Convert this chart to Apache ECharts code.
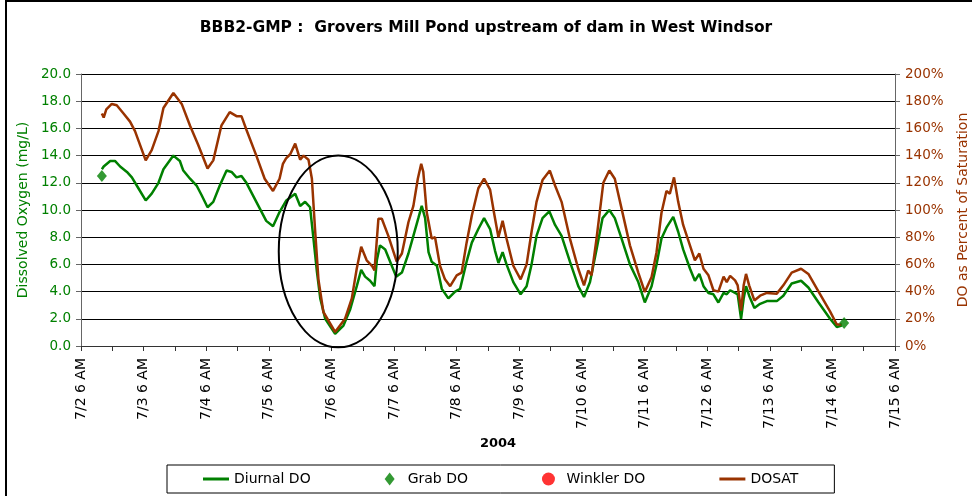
<!DOCTYPE html>
<html>
<head>
<meta charset="utf-8">
<script src="https://cdn.jsdelivr.net/npm/echarts@6/dist/echarts.min.js"></script>
<style>
  html, body { margin: 0; padding: 0; background: #fff; }
  #chartDO { width: 972px; height: 496px; }
</style>
</head>
<body>
<div id="chartDO"></div>
<script>
// hours after 7/2 6 AM, 2004
var doHours = [8.0, 8.7, 11.2, 13.1, 15.0, 17.6, 19.5, 22.0, 24.8, 27.1, 29.7, 31.6, 35.4, 37.9, 39.2, 41.8, 44.3, 46.2, 48.5, 50.7,
  53.2, 55.8, 57.7, 59.6, 61.5, 63.4, 67.2, 71.0, 73.6, 76.1, 78.7, 82.1, 84.0, 85.9, 87.8, 89.1, 90.4, 91.7, 93.6, 97.4,
  100.6, 103.2, 105.7, 107.4, 108.9, 110.8, 112.5, 113.4, 114.6, 116.6, 118.5, 120.8, 123.0, 125.5, 127.4, 129.3, 130.6, 131.9, 133.2, 134.4,
  136.4, 138.3, 140.8, 143.4, 145.3, 147.8, 149.8, 152.3, 154.5, 156.8, 158.7, 160.0, 161.6, 163.1, 165.7, 168.5, 170.8, 172.7, 174.6, 176.9,
  179.5, 181.7, 184.2, 187.4, 190.6, 192.8, 195.1, 197.6, 199.9, 202.5, 204.6, 207.2, 210.4, 213.6, 216.1, 218.7, 220.6, 222.5, 224.4, 227.0,
  228.9, 230.8, 233.4, 235.3, 237.0, 238.6, 240.5, 242.4, 244.3, 246.3, 247.5, 248.8, 250.7, 251.7, 253.0, 254.0, 254.9, 256.1, 258.1, 260.3,
  262.9, 266.7, 269.2, 272.4, 276.0, 278.8, 282.7, 287.1, 289.7, 291.6];
var doValues = [13.0, 13.2, 13.6, 13.6, 13.2, 12.8, 12.4, 11.6, 10.7, 11.2, 12.0, 13.0, 14.0, 13.6, 12.9, 12.3, 11.8, 11.1, 10.2, 10.6,
  11.8, 12.9, 12.8, 12.4, 12.5, 12.0, 10.6, 9.2, 8.8, 9.85, 10.7, 11.2, 10.3, 10.6, 10.2, 7.9, 5.5, 3.5, 2.0, 0.9,
  1.5, 2.7, 4.4, 5.6, 5.1, 4.8, 4.4, 6.3, 7.4, 7.1, 6.2, 5.1, 5.4, 6.8, 8.1, 9.4, 10.3, 9.4, 6.9, 6.2,
  5.9, 4.2, 3.5, 4.0, 4.2, 6.2, 7.6, 8.6, 9.4, 8.6, 7.0, 6.1, 6.9, 6.0, 4.7, 3.8, 4.4, 6.0, 8.1, 9.4,
  9.9, 8.9, 8.1, 6.2, 4.4, 3.6, 4.7, 7.1, 9.4, 10.0, 9.4, 7.9, 6.0, 4.7, 3.2, 4.4, 6.0, 7.9, 8.7, 9.5,
  8.4, 7.1, 5.7, 4.8, 5.3, 4.4, 3.9, 3.8, 3.2, 3.9, 3.8, 4.1, 3.9, 3.8, 2.0, 3.5, 4.4, 3.7, 2.8, 3.1,
  3.3, 3.3, 3.7, 4.6, 4.8, 4.3, 3.2, 2.0, 1.4, 1.5];

var satHours = [8.0, 8.7, 9.7, 11.8, 13.7, 16.3, 18.8, 20.7, 24.8, 27.1, 29.7, 31.6, 35.4, 38.6, 41.8, 44.9, 48.5, 50.7, 53.8, 57.0,
  59.6, 61.5, 63.4, 67.2, 70.4, 73.6, 76.1, 77.4, 78.6, 80.2, 82.1, 84.0, 85.3, 87.2, 88.5, 89.7, 91.0, 92.9, 97.4, 101.2,
  103.8, 105.7, 107.4, 109.5, 111.5, 112.5, 114.0, 115.3, 117.8, 121.0, 123.0, 125.5, 127.4, 129.1, 130.4, 131.2, 132.5, 134.4, 135.7, 137.6,
  139.5, 141.5, 144.0, 145.9, 147.8, 149.8, 152.3, 154.5, 156.8, 158.3, 160.0, 161.6, 163.1, 165.7, 168.5, 170.8, 172.7, 174.6, 176.9, 179.7,
  181.7, 184.2, 187.4, 190.6, 192.8, 194.4, 195.7, 197.6, 200.2, 202.5, 204.6, 207.2, 210.4, 213.6, 216.1, 218.7, 220.6, 222.5, 224.4, 225.7,
  227.3, 228.9, 230.8, 233.4, 235.3, 237.0, 238.6, 240.5, 242.4, 244.3, 246.3, 247.5, 248.8, 250.7, 251.7, 253.0, 254.0, 254.9, 256.1, 258.1,
  260.3, 262.9, 266.7, 269.2, 272.4, 276.0, 278.8, 282.7, 287.1, 289.7, 291.6];
var satValues = [171, 168, 174, 178, 177, 171, 165, 158, 136.5, 144, 158, 175, 186, 178, 162, 148, 130.5, 136.5, 162, 172,
  169, 169, 159, 140, 123, 114, 123, 134, 138, 141, 148.8, 137, 140, 137, 123, 86, 49, 25, 10.3, 20,
  35, 57, 73, 63, 59, 55.5, 93.6, 93.6, 81, 62, 68, 91, 103, 123, 134, 128, 98.5, 79, 80, 59,
  49, 44, 52, 54, 76, 96, 116, 123, 115, 98, 80, 92, 79, 59, 49, 60, 84, 106, 122, 129,
  118, 106, 79, 56.8, 44.6, 55.5, 52, 79, 120, 129, 123, 101, 74, 54, 39.7, 50.7, 69, 98, 114, 112,
  124, 106, 89, 74, 63, 68, 56.8, 52, 41, 40, 51, 47, 51.6, 48.3, 44.6, 26, 44.6, 53, 44.6, 33.5,
  37, 39, 38.5, 44.6, 54, 56.8, 53, 40, 25.5, 15.8, 15.8];

var grabHours = [8.0, 292.5];
var grabValues = [12.5, 1.7];

var winklerHours = [];
var winklerValues = [];

var dayLabels = ['7/2', '7/3', '7/4', '7/5', '7/6', '7/7', '7/8', '7/9', '7/10', '7/11', '7/12', '7/13', '7/14', '7/15'];

function pairs(xs, ys) {
  return xs.map(function (x, i) { return [x, ys[i]]; });
}

var font = 'DejaVu Sans';
var green = '#008000';
var brown = '#993300';
var lineIcon = 'path://M0,0 L26,0 L26,3 L0,3 Z';
var diamondIcon = 'path://M5,0 L10,6.5 L5,13 L0,6.5 Z';

var chart_do = echarts.init(document.getElementById('chartDO'));

chart_do.setOption({
  animation: false,
  title: {
    text: 'BBB2-GMP :  Grovers Mill Pond upstream of dam in West Windsor',
    left: 'center',
    top: 15,
    textStyle: { fontFamily: font, fontSize: 15.5, fontWeight: 'bold', color: '#000' }
  },
  legend: {
    data: [
      { name: 'Diurnal DO', icon: lineIcon },
      { name: 'Grab DO', icon: diamondIcon },
      { name: 'Winkler DO', icon: 'circle' },
      { name: 'DOSAT', icon: lineIcon }
    ],
    left: 167,
    top: 465,
    padding: [7, 36, 7, 36],
    itemWidth: 26,
    itemHeight: 13,
    itemGap: 74,
    borderColor: '#000',
    borderWidth: 1,
    textStyle: { fontFamily: font, fontSize: 14, color: '#000' }
  },
  grid: { left: 81, right: 77, top: 74, bottom: 150, containLabel: false, outerBoundsMode: 'none' },
  xAxis: {
    type: 'value',
    min: 0,
    max: 312,
    interval: 24,
    name: '2004',
    nameLocation: 'middle',
    nameGap: 90,
    nameTextStyle: { fontFamily: font, fontSize: 13, fontWeight: 'bold', color: '#000', padding: [0, 0, 0, 20] },
    axisLine: { onZero: false, lineStyle: { color: '#333', width: 1 } },
    axisTick: { length: 5, lineStyle: { color: '#333' } },
    minorTick: { show: true, splitNumber: 2, length: 5, lineStyle: { color: '#333' } },
    splitLine: { show: false },
    axisLabel: {
      rotate: 90,
      margin: 12,
      fontFamily: font,
      fontSize: 14,
      color: '#000',
      formatter: function (v) { return dayLabels[Math.round(v / 24)] + ' 6 AM'; }
    }
  },
  yAxis: [
    {
      type: 'value',
      position: 'left',
      min: 0,
      max: 20,
      interval: 2,
      name: 'Dissolved Oxygen (mg/L)',
      nameLocation: 'middle',
      nameGap: 49,
      nameTextStyle: { fontFamily: font, fontSize: 14, color: green },
      axisLine: { show: true, lineStyle: { color: '#666' } },
      axisTick: { show: true, length: 5, lineStyle: { color: '#666' } },
      splitLine: { lineStyle: { color: '#000', width: 1 } },
      axisLabel: {
        margin: 10,
        fontFamily: font,
        fontSize: 13.5,
        color: green,
        formatter: function (v) { return v.toFixed(1); }
      }
    },
    {
      type: 'value',
      position: 'right',
      min: 0,
      max: 200,
      interval: 20,
      name: 'DO as Percent of Saturation',
      nameLocation: 'middle',
      nameRotate: 90,
      nameGap: 61,
      nameTextStyle: { fontFamily: font, fontSize: 14, color: brown },
      axisLine: { show: true, lineStyle: { color: '#666' } },
      axisTick: { show: true, length: 5, lineStyle: { color: '#666' } },
      splitLine: { show: false },
      axisLabel: {
        margin: 10,
        fontFamily: font,
        fontSize: 13.5,
        color: brown,
        formatter: '{value}%'
      }
    }
  ],
  series: [
    {
      name: 'Diurnal DO',
      type: 'line',
      yAxisIndex: 0,
      symbol: 'none',
      color: green,
      lineStyle: { color: green, width: 2.5 },
      data: pairs(doHours, doValues)
    },
    {
      name: 'Grab DO',
      type: 'scatter',
      yAxisIndex: 0,
      symbol: 'diamond',
      symbolSize: [10, 12],
      color: green,
      z: 5,
      data: pairs(grabHours, grabValues)
    },
    {
      name: 'Winkler DO',
      type: 'scatter',
      yAxisIndex: 0,
      symbol: 'circle',
      symbolSize: 10,
      color: '#ff0000',
      data: pairs(winklerHours, winklerValues)
    },
    {
      name: 'DOSAT',
      type: 'line',
      yAxisIndex: 1,
      symbol: 'none',
      color: brown,
      lineStyle: { color: brown, width: 2.5 },
      data: pairs(satHours, satValues)
    }
  ]
});

// ellipse around the 7/6 low, placed in data coordinates
var cx = chart_do.convertToPixel({ xAxisIndex: 0 }, 98.6);
var cy = chart_do.convertToPixel({ yAxisIndex: 0 }, 6.95);
var rx = chart_do.convertToPixel({ xAxisIndex: 0 }, 98.6 + 22.8) - cx;
var ry = cy - chart_do.convertToPixel({ yAxisIndex: 0 }, 6.95 + 7.05);

chart_do.setOption({
  graphic: [
    {
      type: 'rect',
      shape: { x: 6, y: 1, width: 980, height: 520 },
      style: { fill: 'none', stroke: '#000', lineWidth: 2 },
      silent: true
    },
    {
      type: 'ellipse',
      shape: { cx: cx, cy: cy, rx: rx, ry: ry },
      style: { fill: 'none', stroke: '#000', lineWidth: 2 },
      z: 10,
      silent: true
    }
  ]
});
</script>
</body>
</html>
